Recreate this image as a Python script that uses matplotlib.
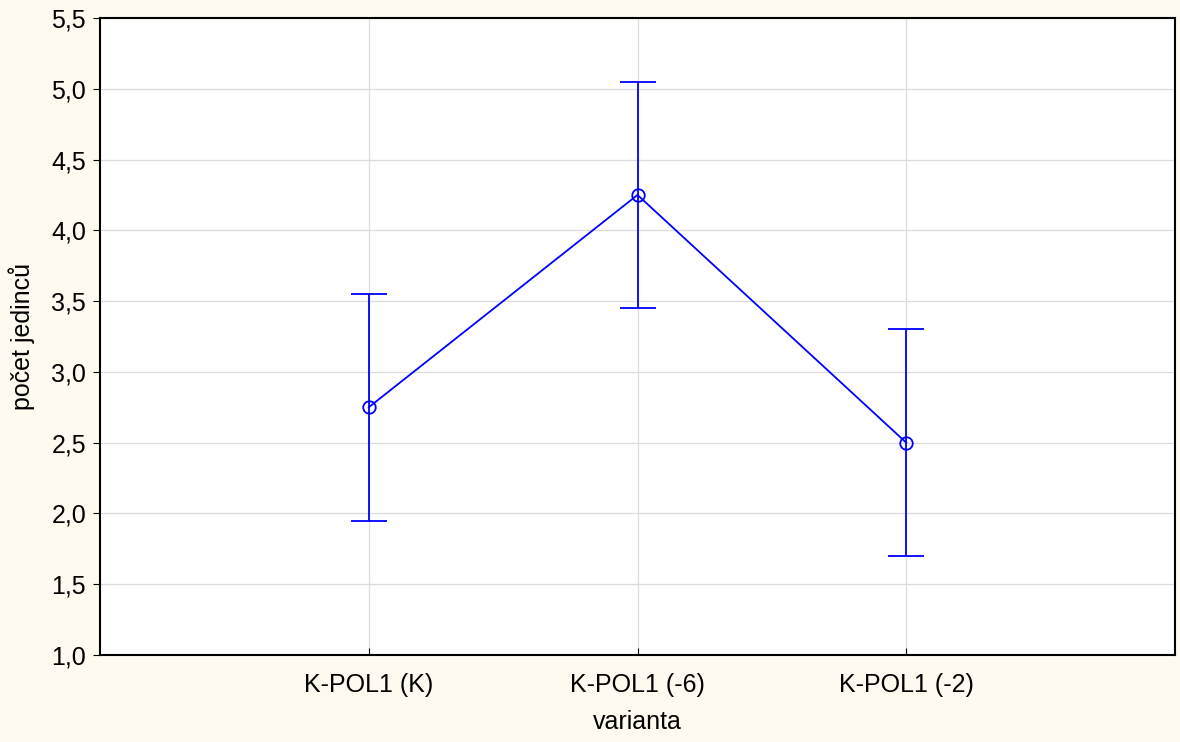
import numpy as np
import matplotlib
matplotlib.use("Agg")
import matplotlib.pyplot as plt

plt.rcParams['font.family'] = ['Liberation Sans', 'DejaVu Sans']

varianty = ["K-POL1 (K)", "K-POL1 (-6)", "K-POL1 (-2)"]
prumer = [2.75, 4.25, 2.50]
dolni = [1.95, 3.45, 1.70]
horni = [3.55, 5.05, 3.30]

x = np.arange(1, len(varianty) + 1)
err = [np.array(prumer) - np.array(dolni), np.array(horni) - np.array(prumer)]

fig = plt.figure(figsize=(11.8, 7.42), dpi=100, facecolor="#fffaf0")
ax = fig.add_axes([100 / 1180, 1 - 655 / 742, 1075 / 1180, 637 / 742])
ax.set_facecolor("white")

ax.errorbar(x, prumer, yerr=err, color="blue", lw=1.3, capsize=13, capthick=1.3,
            marker="o", ms=9, mfc="none", mec="blue", mew=1.3, zorder=3)

ax.set_xlim(0, 4)
ax.set_ylim(1.0, 5.5)
ax.set_xticks(x)
ax.set_xticklabels(varianty)
yt = np.arange(1.0, 5.51, 0.5)
ax.set_yticks(yt)
ax.set_yticklabels([f"{v:.1f}".replace(".", ",") for v in yt])
ax.grid(True, color="#dcdcdc", lw=0.9, zorder=0)
ax.set_axisbelow(True)
ax.tick_params(axis="x", direction="in", length=5, labelsize=18, pad=13)
ax.tick_params(axis="y", direction="out", length=5, labelsize=18, pad=5)
for s in ax.spines.values():
    s.set_linewidth(1.5)
    s.set_color("black")

ax.set_xlabel("varianta", fontsize=18, labelpad=9)
ax.set_ylabel("počet jedinců", fontsize=18, labelpad=12)

fig.savefig("out.png", dpi=100, facecolor=fig.get_facecolor())
